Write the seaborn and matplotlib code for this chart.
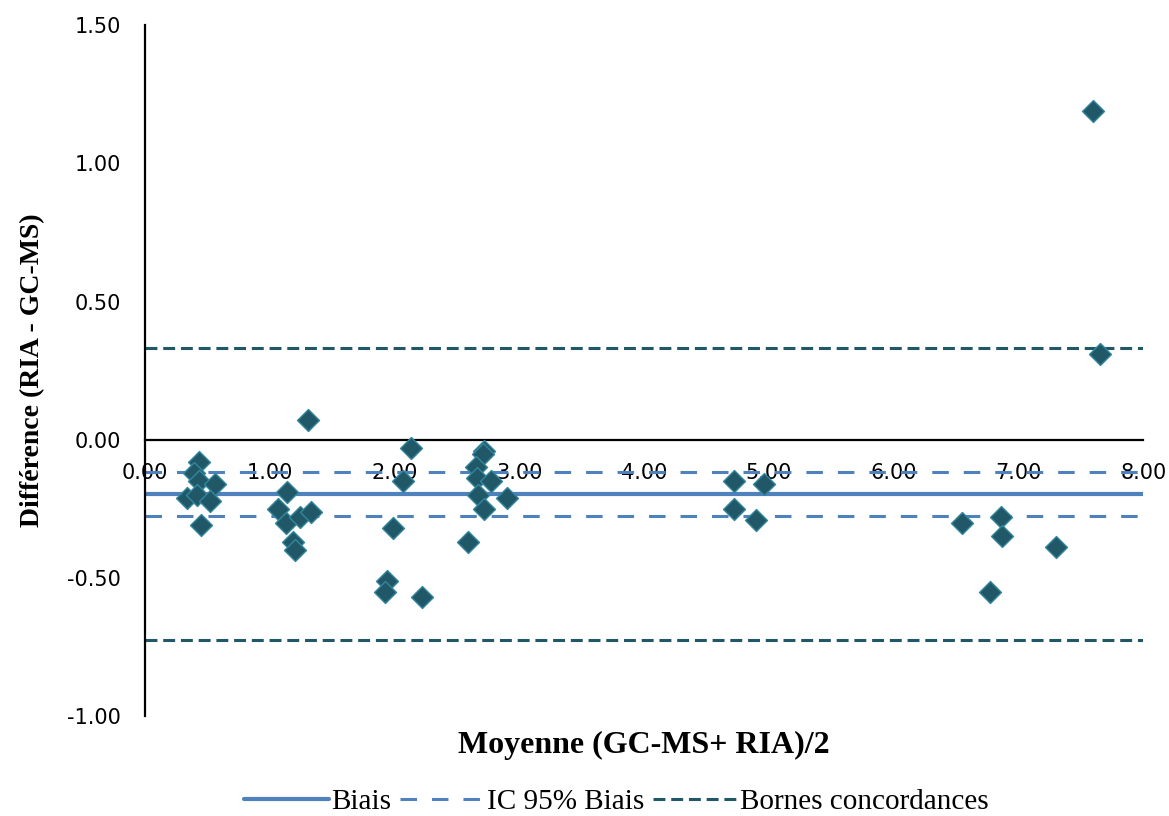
import numpy as np
import pandas as pd
import seaborn as sns
from matplotlib import pyplot as plt
from matplotlib.lines import Line2D

# Bland-Altman values
moyenne = [0.43, 0.39, 0.43, 0.56, 0.34, 0.42, 0.52, 0.45,
           1.14, 1.07, 1.13, 1.24, 1.33, 1.19, 1.20, 1.31,
           2.13, 2.07, 1.99, 1.94, 1.92, 2.22,
           2.72, 2.71, 2.65, 2.66, 2.77, 2.67, 2.90, 2.72, 2.59,
           4.72, 4.96, 4.72, 4.90,
           6.55, 6.86, 6.87, 7.30, 6.77,
           7.60, 7.65]
difference = [-0.08, -0.12, -0.15, -0.16, -0.21, -0.20, -0.22, -0.31,
              -0.19, -0.25, -0.30, -0.28, -0.26, -0.37, -0.40, 0.07,
              -0.03, -0.15, -0.32, -0.51, -0.55, -0.57,
              -0.04, -0.05, -0.10, -0.14, -0.15, -0.20, -0.21, -0.25, -0.37,
              -0.15, -0.16, -0.25, -0.29,
              -0.30, -0.28, -0.35, -0.39, -0.55,
              1.19, 0.31]

biais = -0.197
ic_biais = [-0.117, -0.277]
bornes = [0.331, -0.725]

x_ticks = [0, 1, 2, 3, 4, 5, 6, 7, 8]
y_ticks = [-1.0, -0.5, 0.0, 0.5, 1.0, 1.5]

df = pd.DataFrame({"Moyenne": moyenne, "Difference": difference})

sns.set_style("white")
plt.rcParams["font.family"] = ["DejaVu Sans"]
plt.rcParams["text.color"] = "black"
plt.rcParams["axes.labelcolor"] = "black"

fig = plt.figure(figsize=(11.69, 8.16), dpi=100)
ax = fig.add_axes([0.124, 0.1225, 0.854, 0.8465])

blue = "#4f81bd"
teal = "#215868"
lw = 2.2

ax.axhline(biais, color=blue, lw=3.0, zorder=1)
for v in ic_biais:
    ax.axhline(v, color=blue, lw=lw, linestyle=(0, (5.4, 4.9)), zorder=1)
for v in bornes:
    ax.axhline(v, color=teal, lw=lw, linestyle=(0, (3.9, 1.9)), zorder=1)

sns.scatterplot(data=df, x="Moyenne", y="Difference", marker="D", s=125,
                color=teal, edgecolor="#31859c", linewidth=1.0, ax=ax, zorder=3,
                legend=False)

ax.set_xlim(0, 8)
ax.set_ylim(-1.0, 1.5)
ax.set_xticks(x_ticks)
ax.set_yticks(y_ticks)
ax.set_xticklabels([f"{v:.2f}" for v in x_ticks])
ax.set_yticklabels([f"{v:.2f}" for v in y_ticks])

ax.spines["bottom"].set_position(("data", 0))
ax.spines["top"].set_visible(False)
ax.spines["right"].set_visible(False)
for s in ["left", "bottom"]:
    ax.spines[s].set_linewidth(1.6)
    ax.spines[s].set_color("black")
ax.tick_params(axis="both", direction="out", length=5, width=1.6,
               labelsize=15, colors="black", pad=12)

serif = ["Liberation Serif", "DejaVu Serif"]
ax.set_xlabel("Moyenne (GC-MS+ RIA)/2", fontsize=23, fontweight="bold",
              family=serif)
ax.xaxis.set_label_coords(0.5, -0.022)
ax.set_ylabel("Différence (RIA - GC-MS)", fontsize=20, fontweight="bold",
              family=serif)
ax.yaxis.set_label_coords(-0.1, 0.5)

handles = [
    Line2D([], [], color=blue, lw=3.0),
    Line2D([], [], color=blue, lw=lw, linestyle=(0, (5.4, 4.9))),
    Line2D([], [], color=teal, lw=lw, linestyle=(0, (3.9, 1.9))),
]
fig.legend(handles, ["Biais", "IC 95% Biais", "Bornes concordances"],
           loc="center", bbox_to_anchor=(0.527, 0.017), ncol=3, frameon=False,
           handlelength=2.9, handletextpad=0.08, columnspacing=0.3,
           prop={"family": serif, "size": 21})

fig.savefig("out.png", dpi=100)
